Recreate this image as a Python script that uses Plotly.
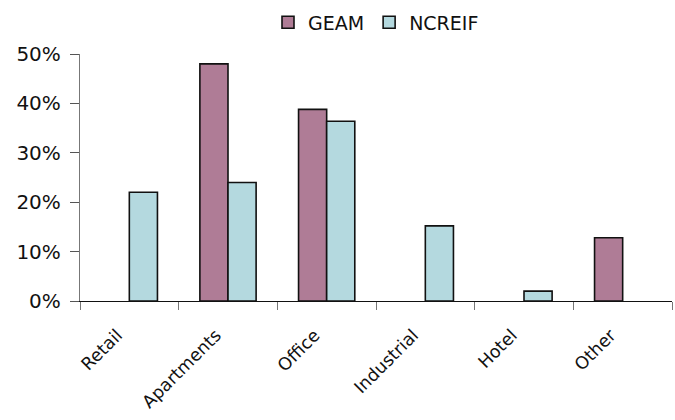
import plotly.graph_objects as go

# Property-type allocation: GEAM portfolio vs. NCREIF index
categories = ["Retail", "Apartments", "Office", "Industrial", "Hotel", "Other"]
geam = [None, 48.0, 38.8, None, None, 12.8]
ncreif = [22.0, 24.0, 36.4, 15.2, 2.0, None]
y_ticks = [0, 10, 20, 30, 40, 50]
y_tick_labels = ["0%", "10%", "20%", "30%", "40%", "50%"]

FONT = "DejaVu Sans"
GEAM_COLOR = "#AF7C96"
NCREIF_COLOR = "#B4D9DF"

fig = go.Figure()
fig.add_trace(go.Bar(
    name="GEAM", x=categories, y=geam,
    marker=dict(color=GEAM_COLOR, line=dict(color="#111111", width=1.6)),
))
fig.add_trace(go.Bar(
    name="NCREIF", x=categories, y=ncreif,
    marker=dict(color=NCREIF_COLOR, line=dict(color="#111111", width=1.6)),
))

fig.update_layout(
    width=675, height=420,
    margin=dict(l=80, r=3, t=51, b=119),
    paper_bgcolor="white", plot_bgcolor="white",
    barmode="group", bargap=0.43, bargroupgap=0,
    font=dict(family=FONT, size=19, color="#111111"),
    showlegend=True,
    legend=dict(
        orientation="h", x=0.5, xanchor="center", y=1.128, yanchor="middle",
        font=dict(family=FONT, size=19, color="#111111"),
        traceorder="normal",
    ),
    xaxis=dict(
        type="category", showgrid=False, zeroline=False, automargin=False,
        showline=True, linecolor="#111111", linewidth=1.3,
        ticks="outside", tickson="boundaries", ticklen=8,
        tickcolor="#777777", tickwidth=1.3,
        tickangle=-45, ticklabelstandoff=16, ticklabelshift=-12,
        tickfont=dict(family=FONT, size=17.5, color="#111111"),
    ),
    yaxis=dict(
        range=[0, 50], tickvals=y_ticks, ticktext=y_tick_labels,
        showgrid=False, zeroline=False, automargin=False,
        showline=True, linecolor="#777777", linewidth=1.3,
        ticks="outside", ticklen=9, tickcolor="#555555", tickwidth=1.3,
        ticklabelstandoff=5,
        tickfont=dict(family=FONT, size=20, color="#111111"),
    ),
)

fig.write_html("out.html")
